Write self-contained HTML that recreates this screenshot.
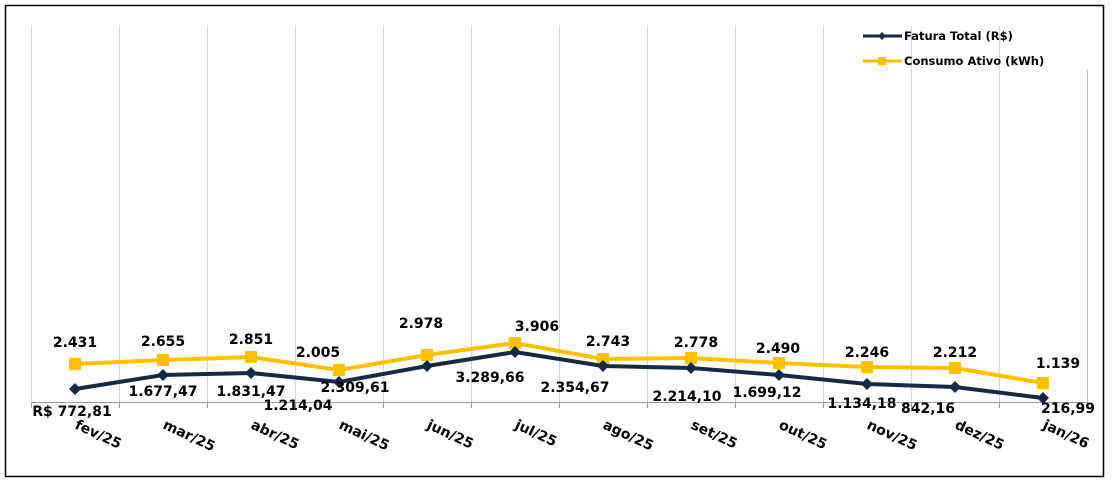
<!DOCTYPE html>
<html><head><meta charset="utf-8"><style>
body{margin:0;background:#fff}
svg text{font-family:"DejaVu Sans","Liberation Sans",sans-serif;font-weight:bold;fill:#000}
</style></head><body>
<svg width="1112" height="486" xmlns="http://www.w3.org/2000/svg">
<rect x="5.5" y="5.5" width="1098" height="471" fill="#fff" stroke="#000" stroke-width="1.5"/>
<g stroke="#cdd6e6" stroke-width="1">
<line x1="31.5" y1="26" x2="31.5" y2="403"/><line x1="119.5" y1="26" x2="119.5" y2="403"/><line x1="207.5" y1="26" x2="207.5" y2="403"/><line x1="295.5" y1="26" x2="295.5" y2="403"/><line x1="383.5" y1="26" x2="383.5" y2="403"/><line x1="471.5" y1="26" x2="471.5" y2="403"/><line x1="559.5" y1="26" x2="559.5" y2="403"/><line x1="647.5" y1="26" x2="647.5" y2="403"/><line x1="735.5" y1="26" x2="735.5" y2="403"/><line x1="823.5" y1="26" x2="823.5" y2="403"/><line x1="911.5" y1="26" x2="911.5" y2="403"/><line x1="999.5" y1="26" x2="999.5" y2="403"/>
</g>
<line x1="1087.5" y1="70" x2="1087.5" y2="403" stroke="#a9bfe0"/>
<line x1="31" y1="402.5" x2="1088" y2="402.5" stroke="#999"/>
<g stroke="#999"><line x1="31.5" y1="402" x2="31.5" y2="408"/><line x1="119.5" y1="402" x2="119.5" y2="408"/><line x1="207.5" y1="402" x2="207.5" y2="408"/><line x1="295.5" y1="402" x2="295.5" y2="408"/><line x1="383.5" y1="402" x2="383.5" y2="408"/><line x1="471.5" y1="402" x2="471.5" y2="408"/><line x1="559.5" y1="402" x2="559.5" y2="408"/><line x1="647.5" y1="402" x2="647.5" y2="408"/><line x1="735.5" y1="402" x2="735.5" y2="408"/><line x1="823.5" y1="402" x2="823.5" y2="408"/><line x1="911.5" y1="402" x2="911.5" y2="408"/><line x1="999.5" y1="402" x2="999.5" y2="408"/><line x1="1087.5" y1="402" x2="1087.5" y2="408"/></g>
<polyline fill="none" stroke="#ffc000" stroke-width="4" points="75,364 163,360 251,357 339,370 427,355 515,343 603,359 691,358 779,363 867,367 955,368 1043,383"/>
<g fill="#ffc000">
<rect x="69" y="358" width="12" height="12"/><rect x="157" y="354" width="12" height="12"/><rect x="245" y="351" width="12" height="12"/><rect x="333" y="364" width="12" height="12"/><rect x="421" y="349" width="12" height="12"/><rect x="509" y="337" width="12" height="12"/><rect x="597" y="353" width="12" height="12"/><rect x="685" y="352" width="12" height="12"/><rect x="773" y="357" width="12" height="12"/><rect x="861" y="361" width="12" height="12"/><rect x="949" y="362" width="12" height="12"/><rect x="1037" y="377" width="12" height="12"/>
</g>
<polyline fill="none" stroke="#172a45" stroke-width="4" points="75,389 163,375 251,373 339,382 427,366 515,352 603,366 691,368 779,375 867,384 955,387 1043,398"/>
<g fill="#172a45">
<path d="M75 383l6 6-6 6-6-6z"/><path d="M163 369l6 6-6 6-6-6z"/><path d="M251 367l6 6-6 6-6-6z"/><path d="M339 376l6 6-6 6-6-6z"/><path d="M427 360l6 6-6 6-6-6z"/><path d="M515 346l6 6-6 6-6-6z"/><path d="M603 360l6 6-6 6-6-6z"/><path d="M691 362l6 6-6 6-6-6z"/><path d="M779 369l6 6-6 6-6-6z"/><path d="M867 378l6 6-6 6-6-6z"/><path d="M955 381l6 6-6 6-6-6z"/><path d="M1043 392l6 6-6 6-6-6z"/>
</g>
<g font-size="14" text-anchor="middle">
<text x="75" y="347">2.431</text><text x="163" y="346">2.655</text><text x="251" y="344">2.851</text><text x="318" y="357">2.005</text><text x="421" y="328">2.978</text><text x="537" y="331">3.906</text><text x="608" y="346">2.743</text><text x="696" y="347">2.778</text><text x="778" y="353">2.490</text><text x="867" y="357">2.246</text><text x="955" y="357">2.212</text><text x="1058" y="368">1.139</text>
<text x="72" y="416">R$ 772,81</text><text x="163" y="396">1.677,47</text><text x="251" y="396">1.831,47</text><text x="298" y="410">1.214,04</text><text x="355" y="392">2.309,61</text><text x="490" y="382">3.289,66</text><text x="575" y="392">2.354,67</text><text x="687" y="401">2.214,10</text><text x="767" y="397">1.699,12</text><text x="862" y="408">1.134,18</text><text x="928" y="413">842,16</text><text x="1068" y="413">216,99</text>
</g>
<g font-size="14">
<text transform="translate(74,428) rotate(25)">fev/25</text><text transform="translate(162,428) rotate(25)">mar/25</text><text transform="translate(250,428) rotate(25)">abr/25</text><text transform="translate(338,428) rotate(25)">mai/25</text><text transform="translate(426,428) rotate(25)">jun/25</text><text transform="translate(514,428) rotate(25)">jul/25</text><text transform="translate(602,428) rotate(25)">ago/25</text><text transform="translate(690,428) rotate(25)">set/25</text><text transform="translate(778,428) rotate(25)">out/25</text><text transform="translate(866,428) rotate(25)">nov/25</text><text transform="translate(954,428) rotate(25)">dez/25</text><text transform="translate(1042,428) rotate(25)">jan/26</text>
</g>
<line x1="863" y1="36" x2="902" y2="36" stroke="#172a45" stroke-width="3"/><path d="M882 32l4 4-4 4-4-4z" fill="#172a45"/>
<line x1="863" y1="61" x2="902" y2="61" stroke="#ffc000" stroke-width="3"/><rect x="878" y="57" width="8" height="8" fill="#ffc000"/>
<text x="904" y="40" font-size="11.5">Fatura Total (R$)</text>
<text x="904" y="65" font-size="11.5">Consumo Ativo (kWh)</text>
</svg>
</body></html>
